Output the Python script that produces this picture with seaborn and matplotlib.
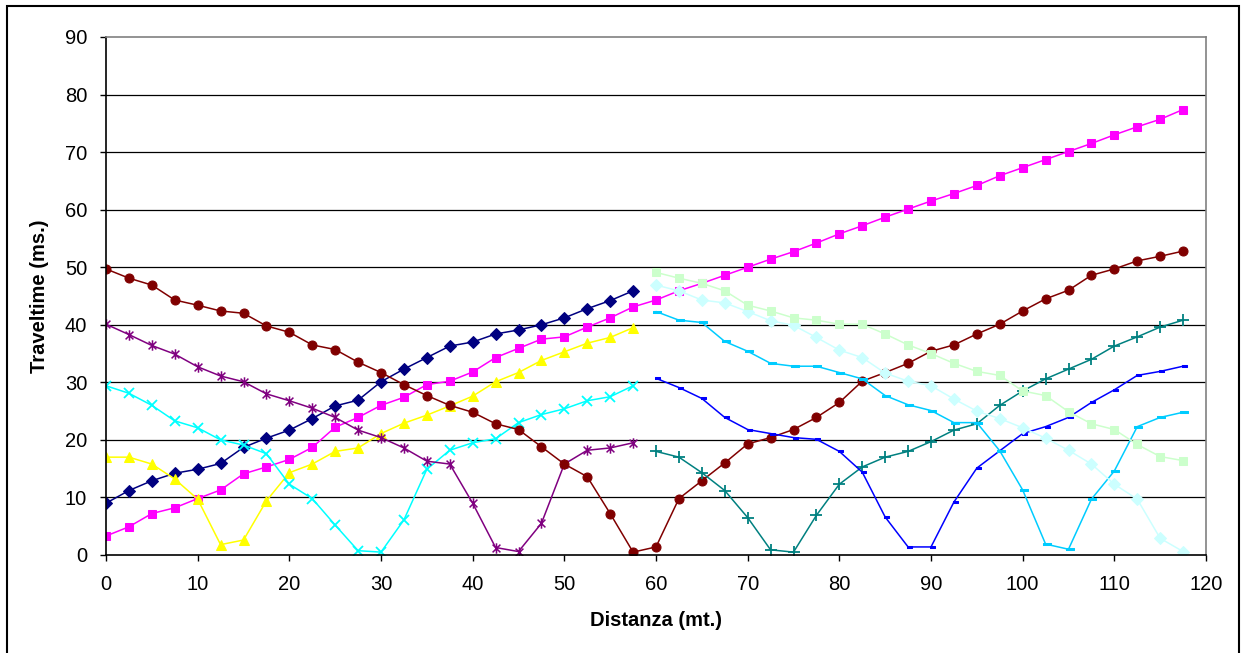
import numpy as np
import pandas as pd
import matplotlib
matplotlib.use("Agg")
import matplotlib.pyplot as plt
from matplotlib.path import Path
from matplotlib.patches import Rectangle
import seaborn as sns

# ---------------- data ----------------
dist_all = [0, 2.5, 5, 7.5, 10, 12.5, 15, 17.5, 20, 22.5, 25, 27.5, 30, 32.5, 35, 37.5,
            40, 42.5, 45, 47.5, 50, 52.5, 55, 57.5, 60, 62.5, 65, 67.5, 70, 72.5, 75, 77.5,
            80, 82.5, 85, 87.5, 90, 92.5, 95, 97.5, 100, 102.5, 105, 107.5, 110, 112.5, 115, 117.5]
dist_left = dist_all[:24]
dist_right = dist_all[24:]

navy = [9.0, 11.2, 12.9, 14.2, 14.9, 15.9, 18.7, 20.3, 21.7, 23.7, 25.9, 26.9,
        30.1, 32.3, 34.3, 36.3, 37.0, 38.4, 39.1, 40.0, 41.2, 42.8, 44.2, 45.9]
magenta = [3.3, 4.9, 7.2, 8.2, 9.8, 11.3, 14.1, 15.3, 16.6, 18.7, 22.2, 23.9,
           26.0, 27.4, 29.6, 30.2, 31.8, 34.3, 35.9, 37.5, 37.9, 39.6, 41.2, 43.1,
           44.3, 45.9, 47.2, 48.6, 50.0, 51.4, 52.7, 54.2, 55.8, 57.2, 58.7, 60.1,
           61.5, 62.8, 64.2, 65.9, 67.3, 68.7, 70.1, 71.5, 73.0, 74.4, 75.7, 77.4]
yellow = [17.0, 17.0, 15.8, 13.2, 9.7, 1.8, 2.6, 9.4, 14.3, 15.8, 18.0, 18.6,
          21.1, 22.9, 24.3, 25.9, 27.6, 30.1, 31.7, 33.8, 35.3, 36.8, 37.8, 39.5]
cyan = [29.4, 28.1, 26.0, 23.3, 22.1, 20.0, 19.1, 17.6, 12.3, 9.8, 5.2, 0.75,
        0.5, 6.1, 14.9, 18.2, 19.5, 20.2, 23.0, 24.4, 25.4, 26.8, 27.5, 29.4]
purple = [40.1, 38.3, 36.4, 34.9, 32.7, 31.1, 30.1, 28.0, 26.8, 25.5, 23.9, 21.7,
          20.4, 18.6, 16.3, 15.8, 9.0, 1.3, 0.6, 5.5, 15.8, 18.2, 18.6, 19.5]
darkred = [49.7, 48.1, 46.9, 44.3, 43.4, 42.4, 42.0, 39.8, 38.7, 36.5, 35.7, 33.5,
           31.7, 29.6, 27.7, 26.0, 24.8, 22.8, 21.8, 18.8, 15.8, 13.6, 7.2, 0.5,
           1.4, 9.8, 12.9, 16.0, 19.3, 20.4, 21.8, 23.9, 26.5, 30.2, 31.7, 33.3,
           35.4, 36.5, 38.4, 40.1, 42.4, 44.5, 46.0, 48.6, 49.7, 51.1, 51.9, 52.8]
teal = [18.0, 17.0, 14.3, 11.2, 6.5, 0.9, 0.5, 6.9, 12.3, 15.3, 17.0, 18.0,
        19.7, 21.7, 22.8, 26.0, 28.5, 30.6, 32.3, 34.0, 36.3, 37.9, 39.6, 40.8]
blue = [30.7, 29.1, 27.2, 23.9, 21.8, 21.1, 20.4, 20.1, 18.0, 14.4, 6.6, 1.4,
        1.4, 9.2, 15.1, 18.1, 21.1, 22.3, 23.9, 26.5, 28.7, 31.2, 31.9, 32.8]
skyblue = [42.3, 40.8, 40.4, 37.1, 35.4, 33.3, 32.8, 32.8, 31.7, 30.6, 27.7, 26.1,
           25.1, 23.0, 23.0, 18.1, 11.3, 1.9, 1.0, 9.7, 14.6, 22.3, 23.9, 24.8]
palecyan = [46.9, 45.9, 44.3, 43.8, 42.3, 40.7, 39.9, 37.8, 35.6, 34.3, 31.6, 30.2,
            29.4, 27.1, 25.0, 23.7, 22.1, 20.3, 18.2, 15.8, 12.3, 9.7, 2.9, 0.6]
lightgreen = [49.1, 48.1, 47.2, 45.9, 43.4, 42.4, 41.2, 40.8, 40.1, 40.1, 38.4, 36.5,
              35.0, 33.3, 31.9, 31.2, 28.5, 27.7, 24.9, 22.8, 21.8, 19.2, 17.1, 16.4]

x_ticks = [0, 10, 20, 30, 40, 50, 60, 70, 80, 90, 100, 110, 120]
y_ticks = [0, 10, 20, 30, 40, 50, 60, 70, 80, 90]

# ---------------- markers ----------------
asterisk = Path([(0, -1), (0, 1), (-0.75, -0.75), (0.75, 0.75), (-0.75, 0.75), (0.75, -0.75)],
                [Path.MOVETO, Path.LINETO, Path.MOVETO, Path.LINETO, Path.MOVETO, Path.LINETO])
short_bar = [(-0.25, -0.3), (1, -0.3), (1, 0.3), (-0.25, 0.3), (-0.25, -0.3)]
long_bar = [(-0.5, -0.22), (1, -0.22), (1, 0.22), (-0.5, 0.22), (-0.5, -0.22)]

# series: (x, y, color, marker kwargs)
series = [
    (dist_left, navy, "#000080", dict(marker="D", markersize=6.3)),
    (dist_all, magenta, "#FF00FF", dict(marker="s", markersize=6.0)),
    (dist_left, yellow, "#FFFF00", dict(marker="^", markersize=7.5)),
    (dist_left, cyan, "#00FFFF", dict(marker="x", markersize=7.0, markeredgewidth=1.3)),
    (dist_left, purple, "#800080", dict(marker=asterisk, markersize=7.5, markeredgewidth=1.1,
                                        markerfacecolor="none")),
    (dist_all, darkred, "#800000", dict(marker="o", markersize=6.5)),
    (dist_right, teal, "#008080", dict(marker="+", markersize=8.0, markeredgewidth=1.3)),
    (dist_right, blue, "#0000FF", dict(marker=short_bar, markersize=6.0)),
    (dist_right, skyblue, "#00CCFF", dict(marker=long_bar, markersize=7.5)),
    (dist_right, palecyan, "#CCFFFF", dict(marker="D", markersize=6.3)),
    (dist_right, lightgreen, "#CCFFCC", dict(marker="s", markersize=6.3)),
]

sns.set_style("white")
plt.rcParams["font.family"] = ["Liberation Sans", "DejaVu Sans"]

fig = plt.figure(figsize=(12.44, 6.53), dpi=100)
ax = fig.add_axes([106 / 1244, 1 - 555 / 653, 1100 / 1244, 518 / 653])

for xs, ys, col, mk in series:
    df = pd.DataFrame({"x": xs, "y": ys})
    sns.lineplot(data=df, x="x", y="y", ax=ax, color=col, linewidth=1.1,
                 markeredgecolor=col, estimator=None, errorbar=None, sort=False,
                 **mk)

ax.set_xlim(0, 120)
ax.set_ylim(0, 90)
ax.set_xticks(x_ticks)
ax.set_yticks(y_ticks)
ax.set_xticklabels([str(v) for v in x_ticks])
ax.set_yticklabels([str(v) for v in y_ticks])

for y in y_ticks[1:-1]:
    ax.axhline(y, color="black", linewidth=0.9, zorder=0.5)

ax.tick_params(axis="both", which="major", direction="out", length=4.5, width=1.0,
               color="black", labelsize=14.5, labelcolor="black",
               bottom=True, left=True)
ax.tick_params(axis="x", pad=10)
ax.tick_params(axis="y", pad=9)

for side in ("left", "bottom"):
    ax.spines[side].set_color("black")
    ax.spines[side].set_linewidth(1.2)
for side in ("top", "right"):
    ax.spines[side].set_color("#808080")
    ax.spines[side].set_linewidth(1.2)
    ax.spines[side].set_visible(True)

ax.set_xlabel("Distanza (mt.)", fontsize=14.5, fontweight="bold", color="black")
ax.set_ylabel("Traveltime (ms.)", fontsize=14.5, fontweight="bold", color="black")
ax.xaxis.set_label_coords(0.5, -0.108)
ax.yaxis.set_label_coords(-0.052, 0.5)

# outer chart border
fig.patches.append(Rectangle((7 / 1244, -0.05), (1239 - 7) / 1244, 1.05 - 6 / 653,
                             transform=fig.transFigure, fill=False,
                             edgecolor="black", linewidth=1.5, zorder=10))

fig.savefig("out.png", dpi=100, facecolor="white")
